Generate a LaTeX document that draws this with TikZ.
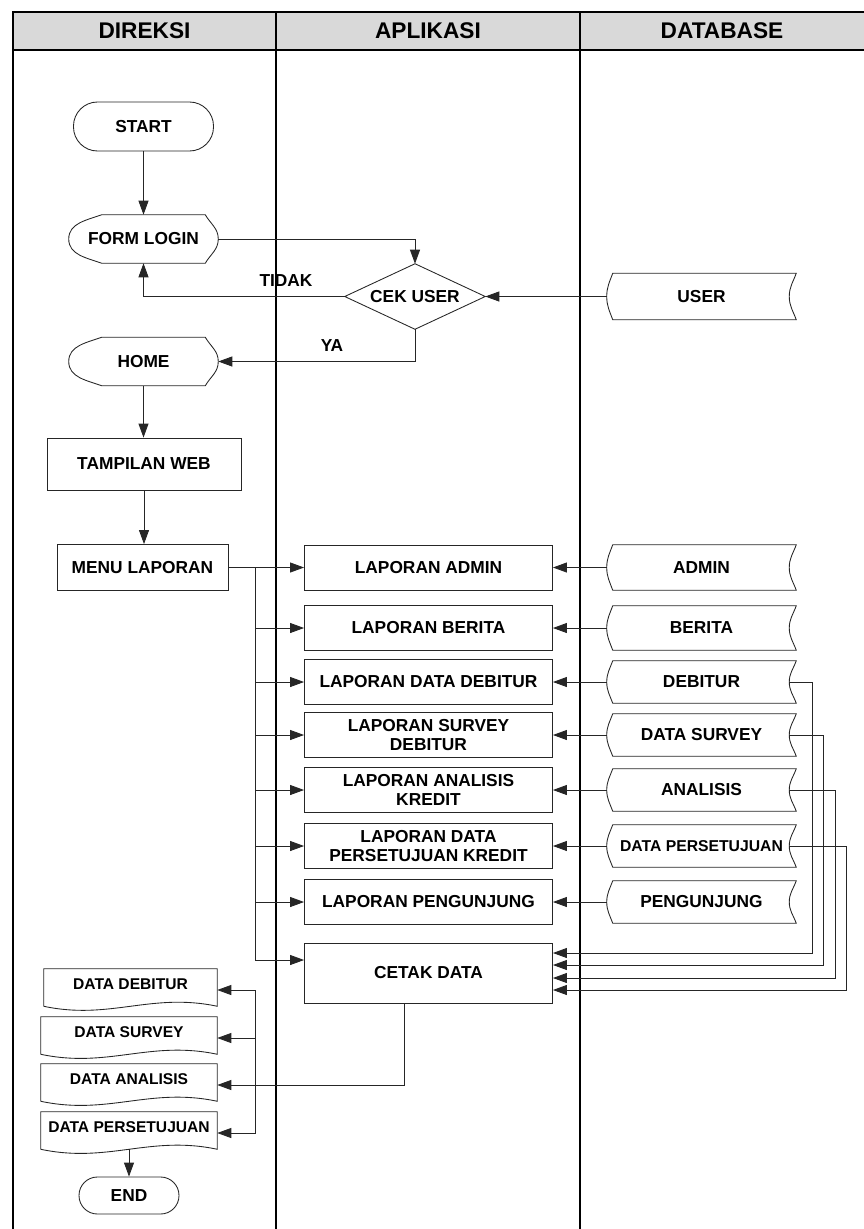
\documentclass[tikz,border=0pt]{standalone}
\usepackage{fontspec}
\setmainfont{Liberation Sans}
\usepackage{xcolor}
\definecolor{HdrGray}{HTML}{D9D9D9}
\definecolor{LineGray}{HTML}{262626}
\usepackage{tikz}
\usetikzlibrary{calc, arrows.meta, positioning}

\tikzset{
  lbl/.style={font=\bfseries\fontsize{13}{14.5}\selectfont, align=center, inner sep=0pt},
  proc/.style={lbl, draw=LineGray, line width=0.65pt, minimum width=186pt, minimum height=33.75pt},
  term/.style={lbl, draw=LineGray, line width=0.65pt, rounded corners=18pt, minimum width=105pt, minimum height=36.75pt},
  disp/.style={lbl, minimum width=111.75pt, minimum height=36pt},
  stor/.style={lbl, minimum width=141.75pt, minimum height=31.5pt},
  docu/.style={lbl, font=\bfseries\fontsize{11.7}{13}\selectfont, minimum width=132pt, minimum height=31.5pt, text height=8.4pt, text depth=9pt},
  arr/.style={LineGray, line width=0.65pt, -{Triangle[length=10.5pt,width=7.5pt]}},
  lane/.style={line width=1.6pt},
  edge/.style={LineGray, line width=0.65pt},
}

\begin{document}
\begin{tikzpicture}[x=0.75pt, y=0.75pt]
  \useasboundingbox (0,0) rectangle (864,-1229);
  \clip (0,0) rectangle (864,-1229);

  % lanes
  \draw[lane, fill=HdrGray] (13,-12) rectangle (870,-50);
  \draw[lane] (13,-12) -- (13,-1229);
  \draw[lane] (276,-12) -- (276,-1229);
  \draw[lane] (580,-12) -- (580,-1229);
  \node[lbl, font=\bfseries\fontsize{17}{20}\selectfont] (hdir) at (144.5,-31) {DIREKSI};
  \node[lbl, font=\bfseries\fontsize{17}{20}\selectfont] (happ) at (428,-31) {APLIKASI};
  \node[lbl, font=\bfseries\fontsize{17}{20}\selectfont] (hdb) at (722,-31) {DATABASE};

  % direksi
  \node[term] (start) at (143.5,-126.5) {START};
  \node[disp] (login) at (143.5,-239) {FORM LOGIN};
  \node[disp] (home) at (143.5,-361.5) {HOME};
  \foreach \d in {login,home}
    \draw[edge] ($(\d.north west)+(33,0)$) -- ($(\d.north east)+(-13,0)$) to[out=-60,in=90] (\d.east)
      to[out=-90,in=60] ($(\d.south east)+(-13,0)$) -- ($(\d.south west)+(33,0)$)
      to[out=160,in=-90] (\d.west) to[out=90,in=200] ($(\d.north west)+(33,0)$) -- cycle;
  \node[proc, minimum width=145.5pt, minimum height=39pt] (web) at (144,-464) {TAMPILAN WEB};
  \node[proc, minimum width=128.25pt, minimum height=34.5pt] (menu) at (142.5,-567.5) {MENU LAPORAN};

  \node[docu, minimum width=129.75pt] (docdeb) at (130.5,-990) {DATA DEBITUR};
  \node[docu] (docsurv) at (129,-1038) {DATA SURVEY};
  \node[docu] (docanal) at (129,-1085) {DATA ANALISIS};
  \node[docu] (docpers) at (129,-1133) {DATA PERSETUJUAN};
  \foreach \d in {docdeb,docsurv,docanal,docpers}
    \draw[edge] ($(\d.south west)+(0,5)$) -- (\d.north west) -- (\d.north east) -- ($(\d.south east)+(0,5)$)
      to[out=168,in=-12] ($(\d.south west)+(0,5)$);
  \node[term, minimum width=75pt, minimum height=27.75pt, rounded corners=13.8pt] (end) at (129,-1195.5) {END};

  % aplikasi
  \node[lbl, minimum width=105pt, minimum height=48.75pt] (cek) at (415,-296.5) {CEK USER};
  \draw[edge] (cek.north) -- (cek.east) -- (cek.south) -- (cek.west) -- cycle;
  \node[lbl] (tidak) at (286,-281) {TIDAK};
  \node[lbl] (ya) at (332,-346) {YA};

  \node[proc] (lapadmin) at (428.5,-567.5) {LAPORAN ADMIN};
  \node[proc] (lapberita) at (428.5,-628) {LAPORAN BERITA};
  \node[proc] (lapdeb) at (428.5,-682) {LAPORAN DATA DEBITUR};
  \node[proc] (lapsurv) at (428.5,-735) {LAPORAN SURVEY\\DEBITUR};
  \node[proc] (lapanal) at (428.5,-790) {LAPORAN ANALISIS\\KREDIT};
  \node[proc] (lappers) at (428.5,-846) {LAPORAN DATA\\PERSETUJUAN KREDIT};
  \node[proc] (lappeng) at (428.5,-902) {LAPORAN PENGUNJUNG};
  \node[proc, minimum height=45pt] (cetak) at (428.5,-973) {CETAK DATA};

  % database
  \node[stor, minimum height=34.5pt] (dbuser) at (701.5,-296.5) {USER};
  \node[stor, minimum height=33.75pt] (dbadmin) at (701.5,-567.5) {ADMIN};
  \node[stor, minimum height=33pt] (dbberita) at (701.5,-628) {BERITA};
  \node[stor] (dbdeb) at (701.5,-682) {DEBITUR};
  \node[stor] (dbsurv) at (701.5,-735) {DATA SURVEY};
  \node[stor] (dbanal) at (701.5,-790) {ANALISIS};
  \node[stor, font=\bfseries\fontsize{11.8}{13}\selectfont] (dbpers) at (701.5,-846) {DATA PERSETUJUAN};
  \node[stor] (dbpeng) at (701.5,-902) {PENGUNJUNG};
  \foreach \d in {dbuser,dbadmin,dbberita,dbdeb,dbsurv,dbanal,dbpers,dbpeng}
    \draw[edge] ($(\d.north west)+(6,0)$) -- (\d.north east) to[out=-110,in=90] ($(\d.east)+(-7,0)$)
      to[out=-90,in=110] (\d.south east) -- ($(\d.south west)+(6,0)$)
      to[out=110,in=-90] (\d.west) to[out=90,in=-110] ($(\d.north west)+(6,0)$) -- cycle;

  % login flow
  \draw[arr] (start.south) -- (login.north);
  \draw[arr] (login.east) -| (cek.north);
  \draw[arr] (cek.west) -| (login.south);
  \draw[arr] (cek.south) |- (home.east);
  \draw[arr] (dbuser.west) -- (cek.east);
  \draw[arr] (home.south) -- (home.south |- web.north);
  \draw[arr] (web.south) -- (web.south |- menu.north);

  % menu to reports
  \coordinate (bus) at (255,-567.5);
  \draw[arr] (menu.east) -- (lapadmin.west);
  \draw[arr] (bus) |- ([yshift=9.75pt]cetak.west);
  \foreach \l in {lapberita,lapdeb,lapsurv,lapanal,lappers,lappeng}
    \draw[arr] (bus |- \l.west) -- (\l.west);
  \foreach \d/\l in {dbadmin/lapadmin,dbberita/lapberita,dbdeb/lapdeb,dbsurv/lapsurv,dbanal/lapanal,dbpers/lappers,dbpeng/lappeng}
    \draw[arr] (\d.west) -- (\l.east);

  % data to cetak
  \foreach \d/\dx/\dy in {dbdeb/23/20, dbsurv/34/8, dbanal/46/-5, dbpers/57/-17}
    \draw[arr] ($(\d.east)+(-7,0)$) -- ++(\dx,0) |- ([yshift=\dy*0.75pt]cetak.east);

  % cetak to documents
  \coordinate (br) at (255,-1085);
  \draw[arr] ([xshift=-18pt]cetak.south) |- (docanal.east);
  \foreach \d in {docdeb,docsurv,docpers}
    \draw[arr] (br |- docanal.east) |- (\d.east);
  \draw[arr] ($(docpers.south)+(0,5)$) -- (end.north);
\end{tikzpicture}
\end{document}
